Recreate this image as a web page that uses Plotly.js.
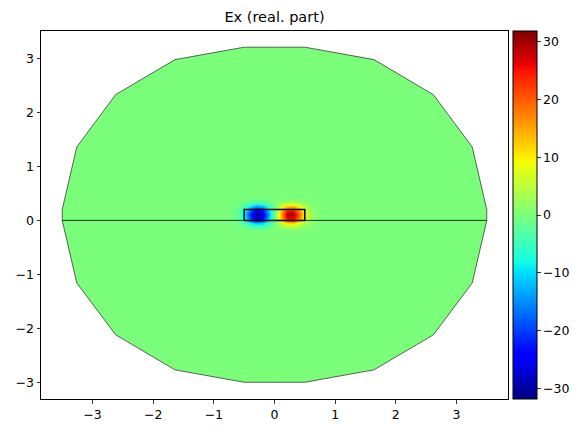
<!DOCTYPE html>
<html>
<head>
<meta charset="utf-8">
<script src="https://cdn.plot.ly/plotly-3.0.1.min.js"></script>
<style>html,body{margin:0;padding:0;background:#fff;}#chart{width:586px;height:434px;}</style>
</head>
<body>
<div id="chart"></div>
<script>
// Domain boundary (polygon vertices)
var polyX = [3.5, 3.5, 3.26, 2.62, 1.64, 0.5, 0, -0.5, -1.64, -2.62, -3.26, -3.5, -3.5, -3.26, -2.62, -1.64, -0.5, 0, 0.5, 1.64, 2.62, 3.26];
var polyY = [0, 0.2, 1.36, 2.33, 2.98, 3.21, 3.21, 3.21, 2.98, 2.33, 1.36, 0.2, 0, -1.16, -2.12, -2.77, -3.0, -3.0, -3.0, -2.77, -2.12, -1.16];

// Interface line and rectangle (waveguide core)
var lineX = [-3.5, 3.5];
var lineY = [0, 0];
var rectX = [-0.5, 0.5, 0.5, -0.5, -0.5];
var rectY = [0, 0, 0.2, 0.2, 0];

// Field samples (Ex real part) near the core
var fieldX = [-0.8, -0.7, -0.6, -0.5, -0.4, -0.3, -0.2, -0.1, 0, 0.1, 0.2, 0.3, 0.4, 0.5, 0.6, 0.7, 0.8];
var fieldY = [-0.2, -0.15, -0.1, -0.05, 0, 0.05, 0.1, 0.15, 0.2, 0.25, 0.3, 0.35, 0.4, 0.45];
var fieldZ = [
  [0, 0, 0, 0, 0, 0, 0, 0, 0, 0, 0, 0, 0, 0, 0, 0, 0],
  [0, 0, -0.2, -0.5, -1.3, -1.9, -1.7, -0.9, 0, 0.9, 1.7, 1.8, 1.2, 0.5, 0.2, 0, 0],
  [0, -0.1, -0.4, -1.5, -3.6, -5.3, -4.8, -2.6, 0, 2.6, 4.9, 5.1, 3.4, 1.4, 0.4, 0.1, 0],
  [0, -0.2, -1, -3.6, -8.4, -12.4, -11.2, -6, 0, 6, 11.6, 12, 8, 3.2, 1, 0.2, 0],
  [0, -0.4, -1.8, -6.3, -14.7, -21.7, -19.6, -10.5, 0, 10.5, 20.3, 21, 14, 5.6, 1.8, 0.4, 0],
  [0, -0.5, -2.3, -8.1, -18.9, -27.9, -25.2, -13.5, 0, 13.5, 26.1, 27, 18, 7.2, 2.3, 0.5, 0],
  [0, -0.5, -2.5, -9, -21, -31, -28, -15, 0, 15, 29, 30, 20, 8, 2.5, 0.5, 0],
  [0, -0.5, -2.4, -8.6, -20, -29.5, -26.6, -14.3, 0, 14.3, 27.6, 28.5, 19, 7.6, 2.4, 0.5, 0],
  [0, -0.4, -2, -7, -16.4, -24.2, -21.8, -11.7, 0, 11.7, 22.6, 23.4, 15.6, 6.2, 2, 0.4, 0],
  [0, -0.3, -1.3, -4.5, -10.5, -15.5, -14, -7.5, 0, 7.5, 14.5, 15, 10, 4, 1.3, 0.3, 0],
  [0, -0.1, -0.6, -2.1, -4.8, -7.1, -6.4, -3.5, 0, 3.5, 6.7, 6.9, 4.6, 1.8, 0.6, 0.1, 0],
  [0, 0, -0.2, -0.7, -1.7, -2.5, -2.2, -1.2, 0, 1.2, 2.3, 2.4, 1.6, 0.6, 0.2, 0, 0],
  [0, 0, 0, -0.2, -0.4, -0.6, -0.6, -0.3, 0, 0.3, 0.6, 0.6, 0.4, 0.2, 0, 0, 0],
  [0, 0, 0, 0, 0, 0, 0, 0, 0, 0, 0, 0, 0, 0, 0, 0, 0]
];
var zMin = -31.8, zMax = 31.8;
var cbTicks = [-30, -20, -10, 0, 10, 20, 30];
var xTicks = [-3, -2, -1, 0, 1, 2, 3];
var yTicks = [-3, -2, -1, 0, 1, 2, 3];

// matplotlib "jet" colormap
var jetSeg = {
  r: [[0, 0], [0.35, 0], [0.66, 1], [0.89, 1], [1, 0.5]],
  g: [[0, 0], [0.125, 0], [0.375, 1], [0.64, 1], [0.91, 0], [1, 0]],
  b: [[0, 0.5], [0.11, 1], [0.34, 1], [0.65, 0], [1, 0]]
};
function segVal(seg, t) {
  for (var i = 0; i < seg.length - 1; i++) {
    var a = seg[i], b = seg[i + 1];
    if (t >= a[0] && t <= b[0]) {
      return a[1] + (b[1] - a[1]) * (t - a[0]) / (b[0] - a[0]);
    }
  }
  return seg[seg.length - 1][1];
}
function jet(t) {
  return 'rgb(' + Math.round(255 * segVal(jetSeg.r, t)) + ',' +
    Math.round(255 * segVal(jetSeg.g, t)) + ',' +
    Math.round(255 * segVal(jetSeg.b, t)) + ')';
}
var stops = [0, 0.11, 0.125, 0.34, 0.35, 0.375, 0.5, 0.64, 0.65, 0.66, 0.89, 0.91, 1];
var jetScale = stops.map(function (s) { return [s, jet(s)]; });
var zeroColor = jet((0 - zMin) / (zMax - zMin));

var path = 'M ' + polyX.map(function (x, i) { return x + ',' + polyY[i]; }).join(' L ') + ' Z';

var font = {family: 'DejaVu Sans, sans-serif', size: 12.5, color: '#000'};

var traces = [
  {
    type: 'heatmap', x: fieldX, y: fieldY, z: fieldZ,
    zmin: zMin, zmax: zMax, colorscale: jetScale, zsmooth: 'best',
    hoverinfo: 'skip', showscale: true,
    colorbar: {
      x: 1.0107, xanchor: 'left', xref: 'paper', y: 0.5, yanchor: 'middle', len: 1, lenmode: 'fraction',
      thickness: 24, thicknessmode: 'pixels', outlinewidth: 1, outlinecolor: '#000',
      tickmode: 'array', tickvals: cbTicks, ticks: 'outside', ticklen: 3.5, tickwidth: 0.8, tickcolor: '#000',
      tickfont: font, xpad: 0, ypad: 0, borderwidth: 0
    }
  },
  {
    type: 'scatter', mode: 'lines', x: lineX, y: lineY,
    line: {color: '#000', width: 0.8}, hoverinfo: 'skip', showlegend: false
  },
  {
    type: 'scatter', mode: 'lines', x: rectX, y: rectY,
    line: {color: '#000', width: 1.5}, hoverinfo: 'skip', showlegend: false
  }
];

var axisCommon = {
  showgrid: false, zeroline: false, showline: true, mirror: true,
  linecolor: '#000', linewidth: 1, ticks: 'outside', ticklen: 3.5, tickwidth: 0.8,
  tickcolor: '#000', tickfont: font, tickmode: 'array'
};

var layout = {
  width: 586, height: 434,
  margin: {l: 41, r: 78, t: 31, b: 35, pad: 0},
  paper_bgcolor: '#fff', plot_bgcolor: '#fff',
  showlegend: false,
  title: {
    text: 'Ex (real. part)', x: 0.5, xref: 'paper', xanchor: 'center',
    y: 1 - 16.5 / 434, yref: 'container', yanchor: 'middle',
    font: {family: 'DejaVu Sans, sans-serif', size: 14.5, color: '#000'}
  },
  xaxis: Object.assign({}, axisCommon, {range: [-3.85, 3.85], tickvals: xTicks}),
  yaxis: Object.assign({}, axisCommon, {range: [-3.31, 3.51], tickvals: yTicks}),
  shapes: [{
    type: 'path', xref: 'x', yref: 'y', path: path, layer: 'below',
    fillcolor: zeroColor, line: {color: '#222', width: 0.7}
  }]
};

Plotly.newPlot('chart', traces, layout, {displayModeBar: false, staticPlot: true});
</script>
</body>
</html>
